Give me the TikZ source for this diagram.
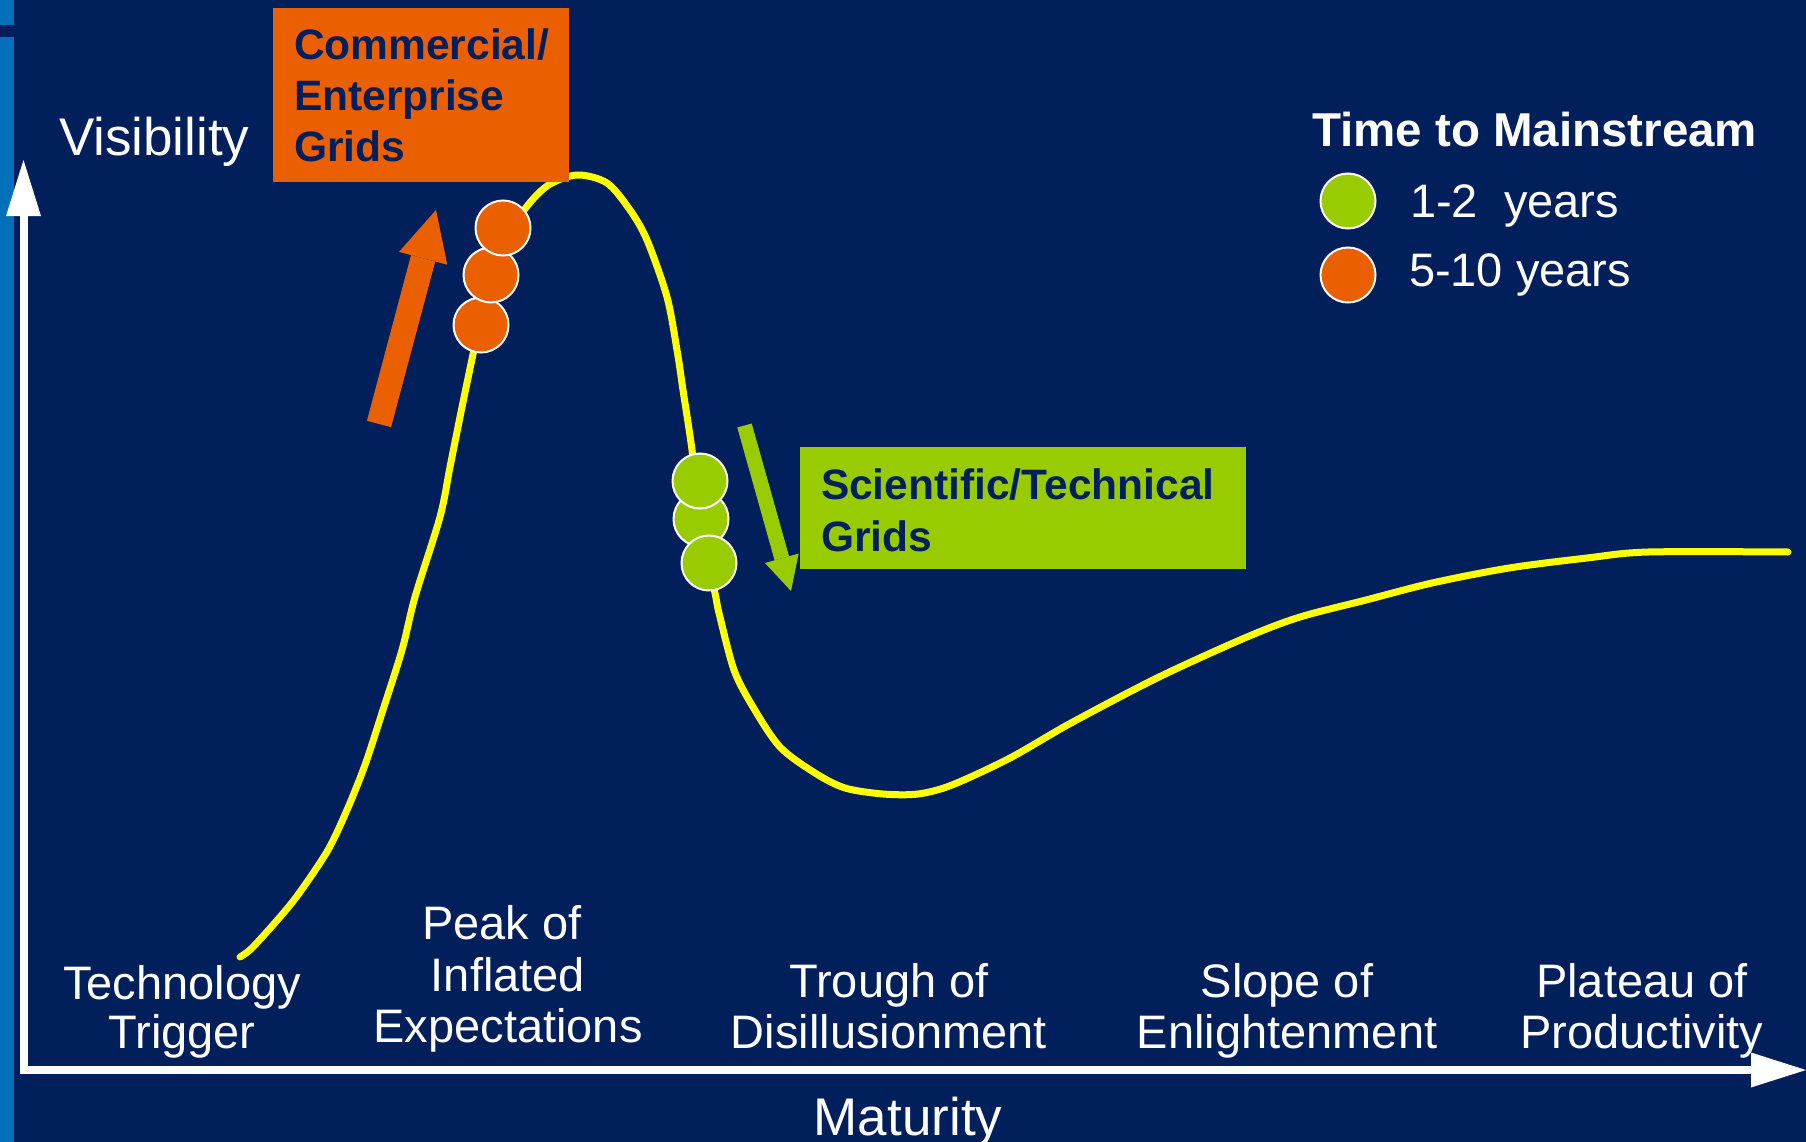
\documentclass[tikz,border=0pt]{standalone}
\usepackage{fontspec}
\setmainfont{Liberation Sans}
\usetikzlibrary{arrows.meta}
\definecolor{navy}{RGB}{0,31,91}
\definecolor{stripe}{RGB}{0,112,184}
\definecolor{hcorange}{RGB}{234,96,0}
\definecolor{hcgreen}{RGB}{153,204,0}
\definecolor{hcyellow}{RGB}{255,255,0}
\begin{document}
\begin{tikzpicture}[x=1pt,y=-1pt,
  every node/.style={inner sep=0pt, outer sep=0pt},
  lbl/.style={text=white, font=\fontsize{47}{52}\selectfont, anchor=base},
  axlbl/.style={text=white, font=\fontsize{53}{60}\selectfont},
  boxtxt/.style={text=navy, font=\bfseries\fontsize{42.5}{51}\selectfont, anchor=base west},
  legtitle/.style={text=white, font=\bfseries\fontsize{47.5}{52}\selectfont, anchor=base west},
  dot/.style={circle, minimum size=55pt, line width=2pt, draw=white},
  odot/.style={dot, fill=hcorange},
  gdot/.style={dot, fill=hcgreen},
  hype/.style={hcyellow, line width=7pt, line cap=round, line join=round},
  axis/.style={white, line width=8pt, line join=miter,
    {Triangle[length=56pt,width=35pt,line width=0pt]}-{Triangle[length=55pt,width=35pt,line width=0pt]}},
  blockarrow/.style={line width=#1}
]
\useasboundingbox (0,0) rectangle (1806,1142);
% background
\fill[navy] (0,0) rectangle (1806,1142);
\fill[stripe] (0,0) rectangle (14,25);
\fill[stripe] (0,37) rectangle (14,1142);

% hype curve
\draw[hype] plot[smooth, tension=0.5] coordinates {
 (240,957) (252,948) (280,917) (300,892) (328,850) (347,810) (365,765)
 (382,713) (402,650) (415,597) (440,517) (450,467) (460,417) (467,383)
 (475,345) (485,300) (500,255) (522,213) (547,186) (577,175) (607,183)
 (630,210) (647,240) (667,297) (677,350) (683,390) (692,450) (700,520)
 (715,593) (719,613) (734,670) (753,707) (780,747) (815,773) (845,788)
 (883,794) (918,794) (952,785) (1010,758) (1071,723) (1159,677) (1247,637)
 (1300,617) (1366,600) (1432,583) (1509,568) (1587,558) (1648,552) (1788,552)};

% commercial box
\node[fill=hcorange, minimum width=296pt, minimum height=174pt, anchor=north west] (cbox) at (273,8) {};
\node[boxtxt] (c1) at (294,60) {Commercial/};
\node[boxtxt] (c2) at (294,111) {Enterprise};
\node[boxtxt] (c3) at (294,162) {Grids};

% scientific box
\node[fill=hcgreen, minimum width=446pt, minimum height=122pt, anchor=north west] (sbox) at (800,447) {};
\node[boxtxt] (s1) at (821,499) {Scientific/Technical};
\node[boxtxt] (s2) at (821,551) {Grids};

% orange dots
\node[odot] (o3) at (481,325) {};
\node[odot] (o2) at (491,275) {};
\node[odot] (o1) at (503,228) {};
% green dots
\node[gdot] (g2) at (701,519) {};
\node[gdot] (g1) at (700,481) {};
\node[gdot] (g3) at (709,563) {};

% block arrows
\coordinate (oa1) at (379,424);
\coordinate (oa2) at (436,210);
\draw[hcorange, line width=25pt, -{Triangle[length=50pt,width=50pt,line width=0pt]}] (oa1) -- (oa2);
\coordinate (ga1) at (744.5,425.5);
\coordinate (ga2) at (791,591);
\draw[hcgreen, line width=15pt, -{Triangle[length=34pt,width=35pt,line width=0pt]}] (ga1) -- (ga2);

% legend
\node[legtitle] (lt) at (1312,147) {Time to Mainstream};
\node[gdot] (lg) at (1348,201) {};
\node[odot] (lo) at (1348,275) {};
\node[lbl, anchor=base west] (lgt) at (1410,218) {1-2\ \ years};
\node[lbl, anchor=base west] (lot) at (1409,286) {5-10 years};

% axes
\coordinate (ytip) at (23.5,160);
\coordinate (orig) at (23.5,1070);
\coordinate (xtip) at (1806,1070);
\draw[axis] (ytip) -- (orig) -- (xtip);
\node[axlbl, anchor=base west] (vis) at (59,156) {Visibility};
\node[axlbl, anchor=base] (mat) at (908,1135) {Maturity};

% phase labels
\node[lbl] (tt1) at (182,999) {Technology};
\node[lbl] (tt2) at (182,1048) {Trigger};
\node[lbl] (pk1) at (502,939) {Peak of};
\node[lbl] (pk2) at (508,991) {Inflated};
\node[lbl] (pk3) at (508,1042) {Expectations};
\node[lbl] (tr1) at (889,997) {Trough of};
\node[lbl] (tr2) at (889,1048) {Disillusionment};
\node[lbl] (sl1) at (1287,997) {Slope of};
\node[lbl] (sl2) at (1287,1048) {Enlightenment};
\node[lbl] (pl1) at (1642,997) {Plateau of};
\node[lbl] (pl2) at (1642,1048) {Productivity};
\end{tikzpicture}
\end{document}
